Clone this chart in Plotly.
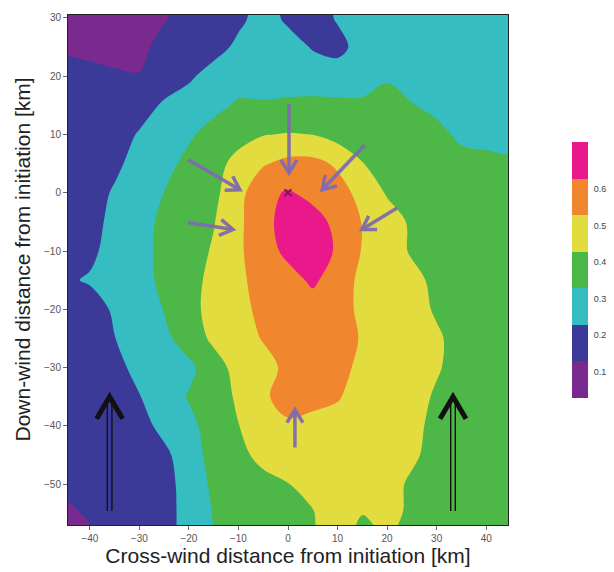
import math
import plotly.graph_objects as go

# ---------------- data ----------------
x_km = [-45, -40, -35, -30, -25, -20, -15, -10, -5, 0, 5, 10, 15, 20, 25, 30, 35, 40, 45]
y_km = [-60, -55, -50, -45, -40, -35, -30, -25, -20, -15, -10, -5, 0, 5, 10, 15, 20, 25, 30, 35]

z_m60 = [0.04, 0.063, 0.129, 0.15, 0.166, 0.234, 0.30, 0.35, 0.35, 0.35, 0.395, 0.44, 0.37, 0.395, 0.40, 0.35, 0.35, 0.35, 0.35]
z_m55 = [0.059, 0.123, 0.15, 0.15, 0.166, 0.234, 0.305, 0.35, 0.35, 0.35, 0.396, 0.45, 0.402, 0.425, 0.385, 0.35, 0.35, 0.35, 0.35]
z_m50 = [0.141, 0.15, 0.15, 0.15, 0.166, 0.239, 0.319, 0.35, 0.363, 0.398, 0.423, 0.45, 0.447, 0.443, 0.381, 0.35, 0.35, 0.35, 0.35]
z_m45 = [0.15, 0.15, 0.15, 0.15, 0.177, 0.257, 0.332, 0.368, 0.435, 0.448, 0.45, 0.45, 0.45, 0.45, 0.421, 0.357, 0.35, 0.35, 0.35]
z_m40 = [0.15, 0.15, 0.15, 0.163, 0.229, 0.275, 0.34, 0.398, 0.452, 0.483, 0.467, 0.46, 0.45, 0.45, 0.433, 0.367, 0.35, 0.35, 0.35]
z_m35 = [0.15, 0.15, 0.15, 0.196, 0.251, 0.307, 0.354, 0.414, 0.483, 0.544, 0.533, 0.509, 0.453, 0.45, 0.445, 0.385, 0.35, 0.35, 0.35]
z_m30 = [0.15, 0.15, 0.167, 0.233, 0.25, 0.277, 0.359, 0.434, 0.461, 0.526, 0.55, 0.538, 0.471, 0.45, 0.45, 0.412, 0.354, 0.35, 0.35]
z_m25 = [0.15, 0.15, 0.198, 0.25, 0.276, 0.347, 0.419, 0.452, 0.507, 0.55, 0.55, 0.547, 0.491, 0.45, 0.45, 0.417, 0.356, 0.35, 0.35]
z_m20 = [0.163, 0.154, 0.214, 0.251, 0.303, 0.368, 0.434, 0.464, 0.531, 0.55, 0.556, 0.542, 0.478, 0.45, 0.446, 0.386, 0.35, 0.35, 0.35]
z_m15 = [0.185, 0.21, 0.238, 0.26, 0.325, 0.363, 0.429, 0.478, 0.542, 0.563, 0.617, 0.55, 0.477, 0.45, 0.429, 0.376, 0.35, 0.35, 0.35]
z_m10 = [0.163, 0.177, 0.241, 0.263, 0.329, 0.353, 0.411, 0.485, 0.555, 0.625, 0.647, 0.589, 0.494, 0.45, 0.389, 0.35, 0.35, 0.35, 0.35]
z_m05 = [0.15, 0.163, 0.229, 0.26, 0.324, 0.35, 0.395, 0.48, 0.569, 0.64, 0.635, 0.576, 0.496, 0.444, 0.386, 0.35, 0.35, 0.35, 0.35]
z_p00 = [0.15, 0.154, 0.212, 0.25, 0.301, 0.35, 0.377, 0.467, 0.575, 0.609, 0.574, 0.538, 0.469, 0.391, 0.35, 0.35, 0.35, 0.35, 0.35]
z_p05 = [0.15, 0.15, 0.177, 0.241, 0.264, 0.331, 0.365, 0.432, 0.491, 0.527, 0.528, 0.486, 0.404, 0.35, 0.35, 0.35, 0.34, 0.325, 0.317]
z_p10 = [0.15, 0.15, 0.153, 0.209, 0.25, 0.283, 0.344, 0.366, 0.396, 0.405, 0.399, 0.362, 0.341, 0.344, 0.349, 0.333, 0.276, 0.271, 0.256]
z_p15 = [0.15, 0.15, 0.15, 0.154, 0.214, 0.25, 0.267, 0.315, 0.311, 0.317, 0.323, 0.319, 0.317, 0.31, 0.305, 0.271, 0.25, 0.25, 0.25]
z_p20 = [0.144, 0.134, 0.117, 0.105, 0.144, 0.183, 0.244, 0.25, 0.253, 0.256, 0.249, 0.249, 0.256, 0.297, 0.25, 0.25, 0.25, 0.25, 0.25]
z_p25 = [0.083, 0.068, 0.056, 0.071, 0.138, 0.15, 0.159, 0.223, 0.25, 0.238, 0.193, 0.171, 0.238, 0.25, 0.25, 0.25, 0.25, 0.25, 0.25]
z_p30 = [0.05, 0.05, 0.05, 0.05, 0.091, 0.147, 0.15, 0.177, 0.241, 0.183, 0.153, 0.209, 0.25, 0.25, 0.25, 0.25, 0.25, 0.25, 0.25]
z_p35 = [0.05, 0.05, 0.05, 0.05, 0.091, 0.147, 0.15, 0.177, 0.241, 0.183, 0.153, 0.209, 0.25, 0.25, 0.25, 0.25, 0.25, 0.25, 0.25]

z_rows = [z_m60, z_m55, z_m50, z_m45, z_m40, z_m35, z_m30, z_m25, z_m20, z_m15,
          z_m10, z_m05, z_p00, z_p05, z_p10, z_p15, z_p20, z_p25, z_p30, z_p35]

band_colors = ["#7A2A8E", "#3C3A98", "#36BDC1", "#4DB748", "#E3DC3F", "#F0872F", "#E9188B"]
band_mids = [0.05, 0.15, 0.25, 0.35, 0.45, 0.55, 0.65]
cbar_ticks = [0.1, 0.2, 0.3, 0.4, 0.5, 0.6]
cbar_labels = ["0.1", "0.2", "0.3", "0.4", "0.5", "0.6"]
x_ticks = [-40, -30, -20, -10, 0, 10, 20, 30, 40]
y_ticks = [-50, -40, -30, -20, -10, 0, 10, 20, 30]

# arrows: (tail_x, tail_y, tip_x, tip_y) in km
purple_arrows = [
    (0.2, 15.2, 0.2, 3.4),
    (-20.2, 5.7, -9.7, 0.5),
    (15.5, 8.2, 6.9, 0.5),
    (-20.2, -5.1, -11.1, -6.3),
    (22.0, -2.6, 14.9, -6.3),
    (1.4, -43.7, 1.4, -37.2),
]
wind_arrows = [
    (-36.0, -54.6, -36.0, -35.0),
    (33.3, -54.6, 33.3, -35.0),
]
origin_x = [0]
origin_y = [0]

x_title = "Cross-wind distance from initiation [km]"
y_title = "Down-wind distance from initiation [km]"

# ---------------- figure ----------------
# the page body has an 8 px default margin, so the figure is laid out 8 px smaller
BODY = 8
W, H = 614 - BODY, 572 - BODY
ML, MT = 68 - BODY, 15 - BODY
MR = 10
PLOT_BOTTOM = 525 - BODY
MB = H - PLOT_BOTTOM
PW = W - ML - MR
PH = H - MT - MB
main_right = 508 - BODY
x_range = [-44.4, 44.4]
y_range = [-57.0, 30.5]
sx = (main_right - ML) / (x_range[1] - x_range[0])
sy = PH / (y_range[1] - y_range[0])

colorscale = [[i / (len(band_colors) - 1), c] for i, c in enumerate(band_colors)]

fig = go.Figure()
fig.add_trace(go.Contour(
    x=x_km, y=y_km, z=z_rows,
    contours=dict(start=cbar_ticks[0], end=cbar_ticks[-1], size=0.1,
                  coloring="fill", showlines=False),
    line=dict(width=0),
    colorscale=colorscale,
    showscale=False,
    hoverinfo="skip",
))

fig.add_trace(go.Scatter(
    x=origin_x, y=origin_y, mode="markers",
    marker=dict(symbol="x-thin", size=7, line=dict(width=1.6, color="#5a2050")),
    hoverinfo="skip", showlegend=False,
))

# colour bar drawn as a one-column heatmap of the band values
fig.add_trace(go.Heatmap(
    x=[0], y=band_mids, z=[[v] for v in band_mids],
    colorscale=colorscale, zmin=band_mids[0], zmax=band_mids[-1],
    showscale=False, hoverinfo="skip", xaxis="x2", yaxis="y2",
))

shapes = []


def head_points(x0, y0, x1, y1, L, Wd):
    dx, dy = (x1 - x0) * sx, (y1 - y0) * sy
    n = math.hypot(dx, dy)
    ux, uy = dx / n, dy / n
    px, py = -uy, ux
    bx = x1 - L * ux / sx
    by = y1 - L * uy / sy
    a = (bx + Wd * px / sx, by + Wd * py / sy)
    b = (bx - Wd * px / sx, by - Wd * py / sy)
    return a, b, (ux, uy)


arrow_col = "rgba(128,106,176,0.95)"
for (x0, y0, x1, y1) in purple_arrows:
    a, b, (ux, uy) = head_points(x0, y0, x1, y1, 13, 8)
    shapes.append(dict(type="line", xref="x", yref="y", x0=x0, y0=y0,
                       x1=x1 - 1.5 * ux / sx, y1=y1 - 1.5 * uy / sy,
                       line=dict(color=arrow_col, width=3.5)))
    shapes.append(dict(type="path", xref="x", yref="y",
                       path=f"M {a[0]},{a[1]} L {x1},{y1} L {b[0]},{b[1]}",
                       line=dict(color=arrow_col, width=3.5)))

for (x0, y0, x1, y1) in wind_arrows:
    for off in (-2.3, 2.3):
        shapes.append(dict(type="line", xref="x", yref="y",
                           x0=x0 + off / sx, y0=y0, x1=x1 + off / sx, y1=y1 - 4 / sy,
                           line=dict(color="#111", width=1.4)))
    a, b, _ = head_points(x0, y0, x1, y1, 22, 13)
    shapes.append(dict(type="path", xref="x", yref="y",
                       path=f"M {a[0]},{a[1]} L {x1},{y1} L {b[0]},{b[1]}",
                       line=dict(color="#111", width=5)))

# y-axis title placed as a rotated annotation (centred where the reference has it)
ytitle_cx = 22.5 - BODY
ytitle_cy = 260 - BODY
annotations = [dict(
    text=y_title, textangle=-90, showarrow=False,
    xref="paper", yref="paper",
    x=(ytitle_cx - ML) / PW, y=(PLOT_BOTTOM - ytitle_cy) / PH,
    xanchor="center", yanchor="middle",
    font=dict(size=21, color="#222"),
)]

fig.update_layout(
    width=W, height=H,
    margin=dict(l=ML, r=MR, t=MT, b=MB),
    paper_bgcolor="white", plot_bgcolor="white",
    showlegend=False,
    shapes=shapes,
    annotations=annotations,
    font=dict(family="Liberation Sans, Arial, sans-serif"),
    xaxis=dict(
        domain=[0, (main_right - ML) / PW], automargin=False,
        range=x_range, tickvals=x_ticks, ticks="outside", ticklen=4, tickcolor="#666",
        tickfont=dict(size=10, color="#555"),
        showline=True, linecolor="#222", linewidth=1, mirror=True,
        showgrid=False, zeroline=False,
        title=dict(text=x_title, font=dict(size=21, color="#222"), standoff=3),
    ),
    yaxis=dict(
        automargin=False,
        range=y_range, tickvals=y_ticks, ticks="outside", ticklen=4, tickcolor="#666",
        tickfont=dict(size=10, color="#555"),
        showline=True, linecolor="#222", linewidth=1, mirror=True,
        showgrid=False, zeroline=False,
    ),
    xaxis2=dict(
        domain=[(572 - BODY - ML) / PW, (588 - BODY - ML) / PW], anchor="y2",
        range=[-0.5, 0.5], visible=False, fixedrange=True,
    ),
    yaxis2=dict(
        domain=[(PLOT_BOTTOM - (398 - BODY)) / PH, (PLOT_BOTTOM - (142 - BODY)) / PH], anchor="x2",
        range=[0.0, 0.7], side="right", showline=False, showgrid=False, zeroline=False,
        tickvals=[t - 0.028 for t in cbar_ticks], ticktext=cbar_labels,
        ticks="outside", ticklen=3, tickcolor="rgba(0,0,0,0)",
        tickfont=dict(size=9, color="#444"), fixedrange=True,
    ),
)

fig.write_html("out.html")
